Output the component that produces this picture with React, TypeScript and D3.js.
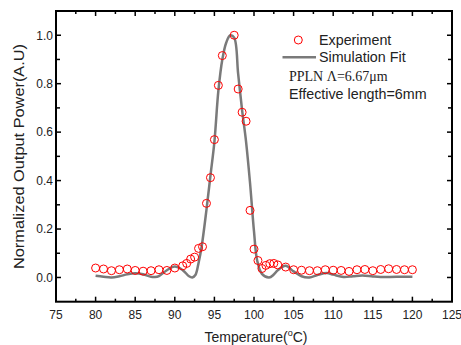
import React, { useEffect, useRef } from 'react';
import * as d3 from 'd3';

// measured points (temperature, normalized power)
const expTemp = [80, 81, 82, 83, 84, 85, 86, 87, 88, 89, 90, 91, 91.5, 92, 92.5, 93, 93.5, 94, 94.5, 95, 95.5, 96, 97.5, 98, 98.5, 99, 99.5, 100, 100.5, 101, 101.5, 102, 102.5, 103, 104, 105, 106, 107, 108, 109, 110, 111, 112, 113, 114, 115, 116, 117, 118, 119, 120];
const expPower = [0.039, 0.035, 0.028, 0.032, 0.035, 0.029, 0.026, 0.028, 0.032, 0.029, 0.039, 0.048, 0.058, 0.076, 0.084, 0.12, 0.127, 0.306, 0.412, 0.569, 0.793, 0.916, 1.0, 0.778, 0.682, 0.645, 0.277, 0.117, 0.07, 0.037, 0.05, 0.057, 0.058, 0.052, 0.043, 0.032, 0.03, 0.028, 0.028, 0.032, 0.03, 0.029, 0.025, 0.032, 0.033, 0.028, 0.033, 0.036, 0.033, 0.032, 0.032];

// simulation fit
const simTemp = [80, 81, 82, 83, 84, 85, 86, 87, 87.5, 88, 89, 90, 91, 91.8, 92.2, 92.6, 93, 93.4, 94, 94.5, 95, 95.5, 96, 96.5, 97, 97.5, 98, 98.5, 99, 99.5, 100, 100.4, 101, 101.9, 102.5, 103, 104, 105, 106, 107, 108, 109.2, 110, 111.3, 112.5, 113.7, 115, 116, 118, 120];
const simPower = [0.007, 0.003, 0.0, 0.005, 0.013, 0.017, 0.013, 0.003, 0.002, 0.006, 0.03, 0.045, 0.03, 0.005, 0.0, 0.01, 0.06, 0.13, 0.28, 0.42, 0.56, 0.77, 0.9, 0.97, 1.0, 0.99, 0.84, 0.69, 0.56, 0.39, 0.19, 0.07, 0.015, 0.0, 0.012, 0.03, 0.048, 0.025, 0.005, 0.0, 0.01, 0.018, 0.012, 0.002, 0.005, 0.008, 0.004, 0.002, 0.003, 0.003];

const xTicks = [75, 80, 85, 90, 95, 100, 105, 110, 115, 120, 125];
const yTicks = [0.0, 0.2, 0.4, 0.6, 0.8, 1.0];

const W = 461;
const H = 345;

const App = () => {
  const svgRef = useRef<SVGSVGElement>(null);

  useEffect(() => {
    const svg = d3.select(svgRef.current);
    svg.selectAll('*').remove();

    const left = 56, right = 452, top = 11, bottom = 301.7;

    const x = d3.scaleLinear().domain([75, 125]).range([left, right]);
    const y = d3.scaleLinear().domain([-0.1, 1.1]).range([bottom, top]);

    const font = 'Arial, "Liberation Sans", sans-serif';

    // frame
    svg.append('rect')
      .attr('x', left).attr('y', top)
      .attr('width', right - left).attr('height', bottom - top)
      .attr('fill', 'none').attr('stroke', '#000').attr('stroke-width', 2);

    // inward ticks on all sides
    const xMinor = d3.range(77.5, 125, 5);
    const yMinor = [0.1, 0.3, 0.5, 0.7, 0.9];
    const tickG = svg.append('g').attr('stroke', '#000').attr('stroke-width', 1.5);
    xTicks.slice(1, -1).forEach(t => {
      tickG.append('line').attr('x1', x(t)).attr('x2', x(t)).attr('y1', bottom).attr('y2', bottom - 5);
      tickG.append('line').attr('x1', x(t)).attr('x2', x(t)).attr('y1', top).attr('y2', top + 5);
    });
    xMinor.forEach(t => {
      tickG.append('line').attr('x1', x(t)).attr('x2', x(t)).attr('y1', bottom).attr('y2', bottom - 3);
      tickG.append('line').attr('x1', x(t)).attr('x2', x(t)).attr('y1', top).attr('y2', top + 3);
    });
    yTicks.forEach(t => {
      tickG.append('line').attr('x1', left).attr('x2', left + 5).attr('y1', y(t)).attr('y2', y(t));
      tickG.append('line').attr('x1', right).attr('x2', right - 5).attr('y1', y(t)).attr('y2', y(t));
    });
    yMinor.forEach(t => {
      tickG.append('line').attr('x1', left).attr('x2', left + 4).attr('y1', y(t)).attr('y2', y(t));
      tickG.append('line').attr('x1', right).attr('x2', right - 4).attr('y1', y(t)).attr('y2', y(t));
    });

    // tick labels
    svg.append('g').selectAll('text').data(xTicks).enter().append('text')
      .attr('x', d => x(d)).attr('y', 318.5)
      .attr('text-anchor', 'middle')
      .attr('font-family', font).attr('font-size', 12).attr('fill', '#222')
      .text(d => d);

    svg.append('g').selectAll('text').data(yTicks).enter().append('text')
      .attr('x', 53).attr('y', d => y(d) + 4.3)
      .attr('text-anchor', 'end')
      .attr('font-family', font).attr('font-size', 12).attr('fill', '#222')
      .text(d => d.toFixed(1));

    // axis titles
    const xt = svg.append('text')
      .attr('x', 256).attr('y', 341.5)
      .attr('text-anchor', 'middle')
      .attr('font-family', font).attr('font-size', 14).attr('fill', '#222');
    xt.append('tspan').text('Temperature(');
    xt.append('tspan').attr('font-size', 9).attr('dy', -6).text('o');
    xt.append('tspan').attr('dy', 6).text('C)');

    svg.append('text')
      .attr('transform', `translate(24,${(44 + 269) / 2}) rotate(-90)`)
      .attr('text-anchor', 'middle')
      .attr('font-family', font).attr('font-size', 15).attr('fill', '#222')
      .attr('textLength', 225).attr('lengthAdjust', 'spacingAndGlyphs')
      .text('Normalized Output Power(A.U)');

    // simulation curve
    const simData = simTemp.map((t, i) => [t, simPower[i]] as [number, number]);
    const line = d3.line<[number, number]>()
      .x(d => x(d[0])).y(d => y(d[1]))
      .curve(d3.curveCatmullRom.alpha(0.5));
    svg.append('path')
      .datum(simData)
      .attr('d', line)
      .attr('fill', 'none').attr('stroke', '#7a7a7a').attr('stroke-width', 2.5);

    // experiment points
    svg.append('g').selectAll('circle')
      .data(expTemp.map((t, i) => [t, expPower[i]]))
      .enter().append('circle')
      .attr('cx', d => x(d[0])).attr('cy', d => y(d[1]))
      .attr('r', 4)
      .attr('fill', 'none').attr('stroke', '#ff0000').attr('stroke-width', 1);

    // legend
    svg.append('circle').attr('cx', 298.3).attr('cy', 40).attr('r', 4)
      .attr('fill', 'none').attr('stroke', '#ff0000').attr('stroke-width', 1);
    svg.append('text').attr('x', 319).attr('y', 44.5)
      .attr('font-family', font).attr('font-size', 14.3).attr('fill', '#222').text('Experiment');
    svg.append('line').attr('x1', 282.5).attr('x2', 316).attr('y1', 57.3).attr('y2', 57.3)
      .attr('stroke', '#7a7a7a').attr('stroke-width', 2.5);
    svg.append('text').attr('x', 319).attr('y', 61.5)
      .attr('font-family', font).attr('font-size', 14.3).attr('fill', '#222').text('Simulation Fit');
    svg.append('text').attr('x', 289).attr('y', 80.5)
      .attr('font-family', '"Times New Roman", "Liberation Serif", serif').attr('font-size', 14).attr('fill', '#222')
      .text('PPLN Λ=6.67μm');
    svg.append('text').attr('x', 289).attr('y', 99)
      .attr('font-family', font).attr('font-size', 14.3).attr('fill', '#222').text('Effective length=6mm');
  }, []);

  return (
    <svg ref={svgRef} width={W} height={H}
      style={{ position: 'absolute', left: 0, top: 0, background: '#fff' }} />
  );
};

export default App;
